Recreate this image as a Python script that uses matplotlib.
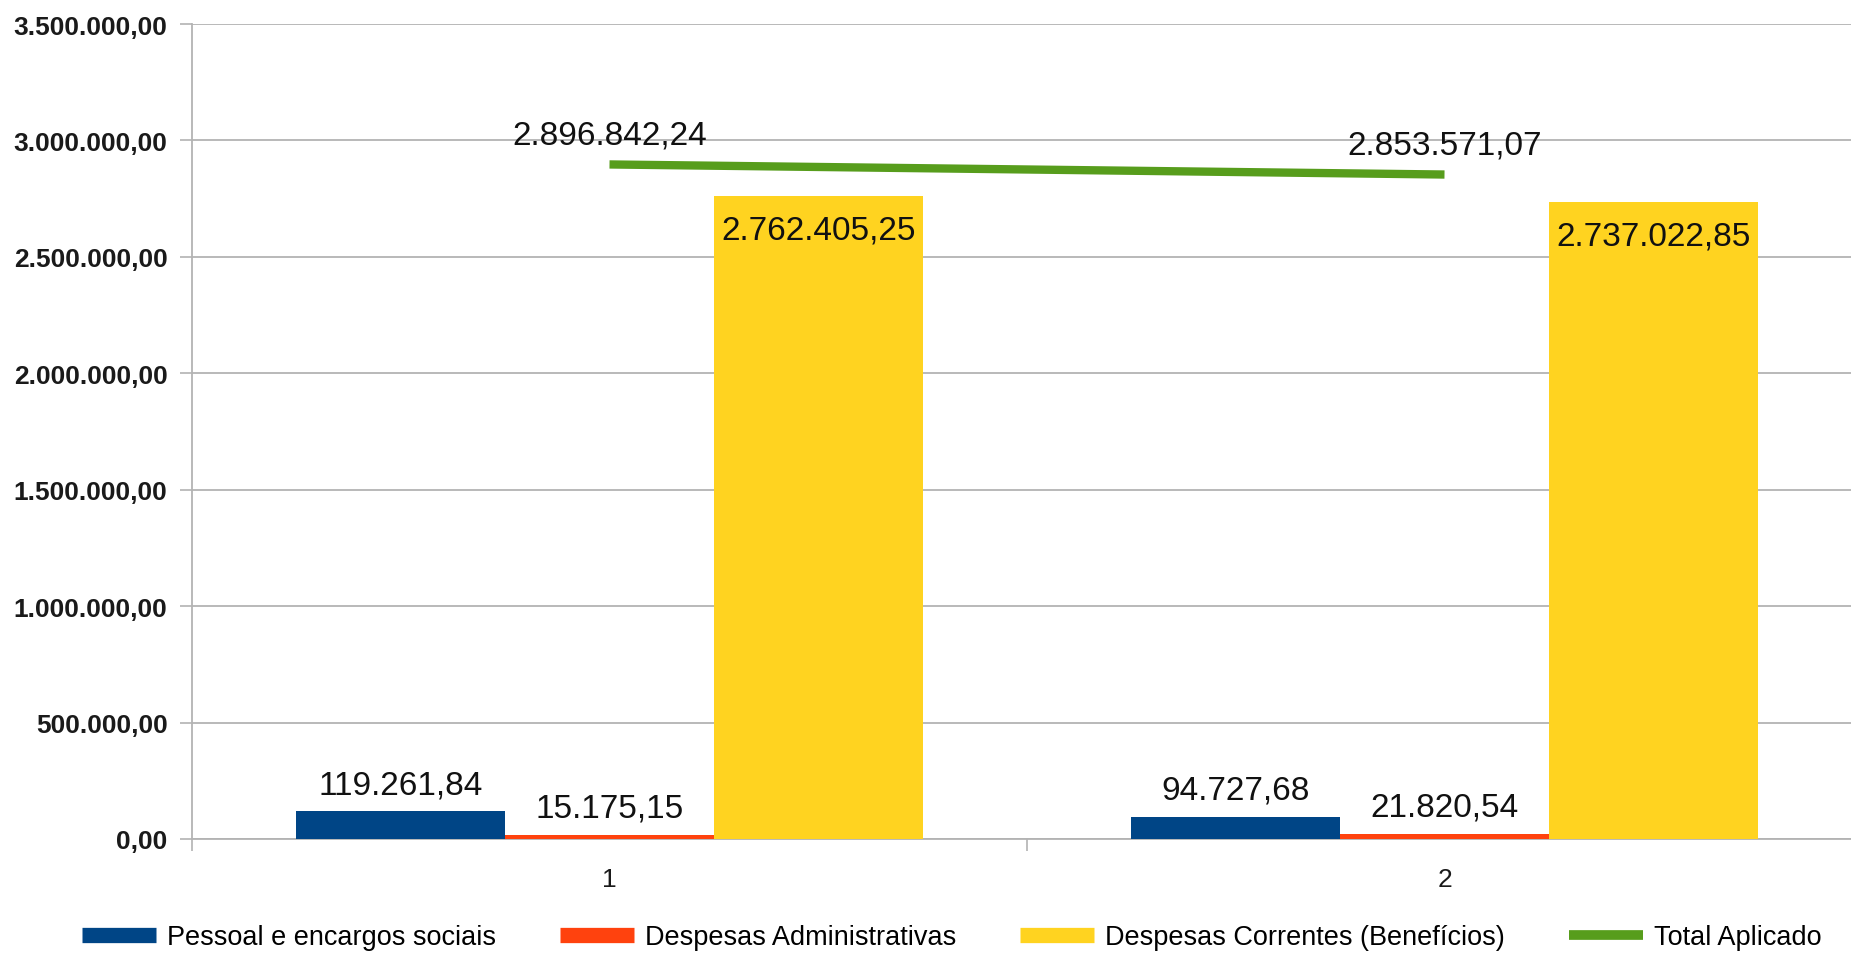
import matplotlib
matplotlib.use("Agg")
import matplotlib.pyplot as plt
from matplotlib.lines import Line2D
import numpy as np

plt.rcParams['font.family'] = ['Liberation Sans', 'DejaVu Sans']

categories = ["1", "2"]
pessoal = [119261.84, 94727.68]
administrativas = [15175.15, 21820.54]
correntes = [2762405.25, 2737022.85]
total = [2896842.24, 2853571.07]
series_names = ["Pessoal e encargos sociais", "Despesas Administrativas",
                "Despesas Correntes (Benefícios)", "Total Aplicado"]
yticks = [0, 500000, 1000000, 1500000, 2000000, 2500000, 3000000, 3500000]

c_blue = "#004586"
c_red = "#FF420E"
c_yellow = "#FFD320"
c_green = "#579D1C"
grid_c = "#B3B3B3"


def br(v):
    s = f"{v:,.2f}"
    return s.replace(",", "X").replace(".", ",").replace("X", ".")


W, H = 1851, 954
fig = plt.figure(figsize=(W / 100, H / 100), dpi=100)
ax = fig.add_axes([192 / W, (H - 840) / H, (1862 - 192) / W, (840 - 25) / H])

x = np.arange(len(categories))
bw = 0.25
ax.bar(x - bw, pessoal, bw, color=c_blue, zorder=3)
ax.bar(x, administrativas, bw, color=c_red, zorder=3)
ax.bar(x + bw, correntes, bw, color=c_yellow, zorder=3)
ax.plot(x, total, color=c_green, lw=6, solid_capstyle='butt', zorder=4)

fs_lab = 24
for xi, v in zip(x - bw, pessoal):
    ax.annotate(br(v), (xi, v), xytext=(0, 13), textcoords='offset points',
                ha='center', va='baseline', fontsize=fs_lab, color='#111111', zorder=5)
for xi, v in zip(x, administrativas):
    ax.annotate(br(v), (xi, v), xytext=(0, 13.5), textcoords='offset points',
                ha='center', va='baseline', fontsize=fs_lab, color='#111111', zorder=5)
for xi, v in zip(x + bw, correntes):
    ax.annotate(br(v), (xi, v), xytext=(0, -31), textcoords='offset points',
                ha='center', va='baseline', fontsize=fs_lab, color='#111111', zorder=5)
for xi, v in zip(x, total):
    ax.annotate(br(v), (xi, v), xytext=(0, 15), textcoords='offset points',
                ha='center', va='baseline', fontsize=fs_lab, color='#111111', zorder=5)

ax.set_xlim(-0.5, 1.5)
ax.set_ylim(0, 3500000)
ax.set_yticks(yticks)
ax.set_yticklabels([br(v) for v in yticks], fontsize=19, fontweight='bold', color='#1a1a1a')
ax.set_xticks(x)
ax.set_xticklabels(categories, fontsize=19, color='#1a1a1a')
ax.set_xticks([-0.5, 0.5, 1.5], minor=True)
ax.tick_params(axis='x', which='major', length=0, pad=20)
ax.tick_params(axis='x', which='minor', length=8.6, width=1.2, color=grid_c, direction='out')
ax.tick_params(axis='y', length=8.6, width=1.2, color=grid_c, pad=9)
ax.grid(axis='y', color=grid_c, lw=1.3, zorder=0)
for s in ['top', 'right']:
    ax.spines[s].set_visible(False)
ax.spines['left'].set_color(grid_c)
ax.spines['left'].set_linewidth(1.3)
ax.spines['bottom'].set_color(grid_c)
ax.spines['bottom'].set_linewidth(1.3)

handles = [Line2D([], [], color=c, lw=11, solid_capstyle='butt')
           for c in [c_blue, c_red, c_yellow]]
handles.append(Line2D([], [], color=c_green, lw=7, solid_capstyle='butt'))
fig.legend(handles, series_names, loc='center', bbox_to_anchor=(951.5 / W, (H - 938) / H),
           ncol=4, frameon=False, fontsize=19.5, handlelength=2.73, handletextpad=0.41,
           columnspacing=2.36, borderaxespad=0, borderpad=0)

fig.savefig("out.png", dpi=100, facecolor='white')
